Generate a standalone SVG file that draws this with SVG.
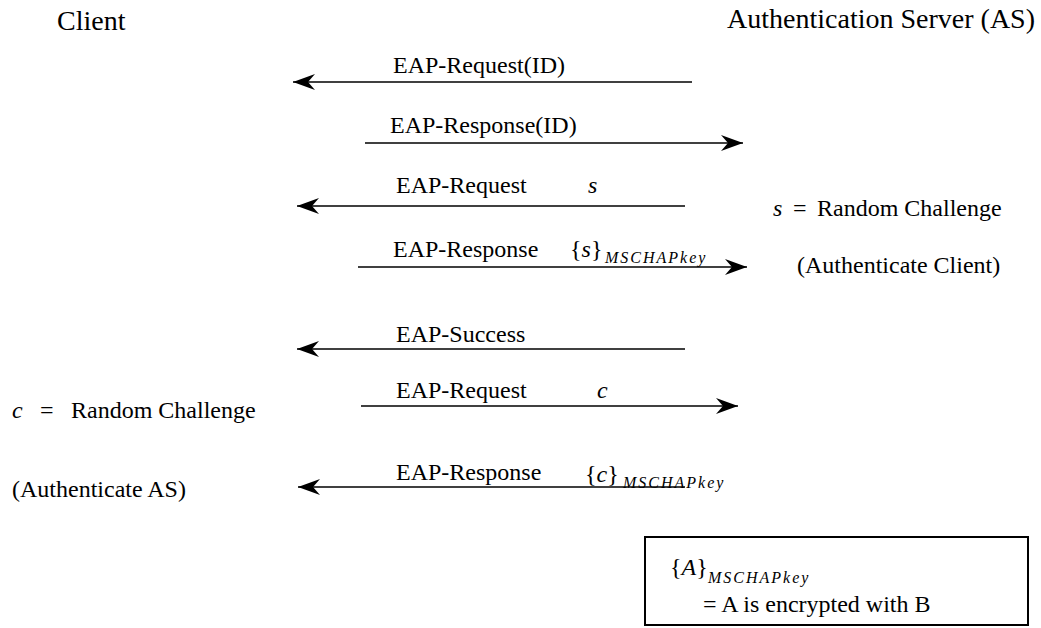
<svg xmlns="http://www.w3.org/2000/svg" width="1041" height="628" viewBox="0 0 1041 628">
<style>
text{font-family:"Liberation Serif","Times New Roman",serif;fill:#000;font-size:24px}
.hd{font-size:28px}
.it{font-style:italic}
.sub{font-style:italic;font-size:16px;letter-spacing:2px}
.msg{stroke:#000;stroke-width:1.3;fill:none;marker-end:url(#ah)}
</style>
<defs>
<marker id="ah" markerUnits="userSpaceOnUse" markerWidth="24" markerHeight="18" viewBox="-23 -9 24 18" refX="0" refY="0" orient="auto" overflow="visible">
<path d="M0,0 L-22,-8 L-15,0 L-22,8 Z" fill="#000"/>
</marker>
</defs>
<rect width="1041" height="628" fill="#fff"/>
<g id="client"><text class="hd" x="57" y="30">Client</text></g>
<g id="as"><text class="hd" x="1035" y="28" text-anchor="end">Authentication Server (AS)</text></g>
<g id="connectors">
<line class="msg" x1="692" y1="82" x2="293" y2="82"/>
<line class="msg" x1="365" y1="143" x2="743" y2="143"/>
<line class="msg" x1="685" y1="206" x2="297" y2="206"/>
<line class="msg" x1="358" y1="267" x2="747" y2="267"/>
<line class="msg" x1="685" y1="349" x2="297" y2="349"/>
<line class="msg" x1="361" y1="406" x2="738" y2="406"/>
<line class="msg" x1="685" y1="487" x2="298" y2="487"/>
</g>
<g id="labels">
<text x="393" y="73">EAP-Request(ID)</text>
<text x="390" y="133">EAP-Response(ID)</text>
<text x="396" y="193">EAP-Request</text>
<text class="it" x="588" y="193">s</text>
<text x="393" y="257">EAP-Response</text>
<text x="570" y="257">{<tspan class="it">s</tspan>}</text>
<text class="sub" x="605" y="263">MSCHAPkey</text>
<text x="396" y="342">EAP-Success</text>
<text x="396" y="398">EAP-Request</text>
<text class="it" x="597" y="398">c</text>
<text x="396" y="480">EAP-Response</text>
<text x="585" y="482">{<tspan class="it">c</tspan>}</text>
<text class="sub" x="623" y="488">MSCHAPkey</text>
</g>
<g id="server-notes">
<text class="it" x="773" y="216">s</text>
<text x="793" y="216">=</text>
<text x="817" y="216">Random Challenge</text>
<text x="797" y="273">(Authenticate Client)</text>
</g>
<g id="client-notes">
<text class="it" x="12" y="418">c</text>
<text x="40" y="418">=</text>
<text x="71" y="418">Random Challenge</text>
<text x="12" y="497">(Authenticate AS)</text>
</g>
<g id="legend">
<rect x="645" y="537" width="383" height="88" fill="none" stroke="#000" stroke-width="2"/>
<text x="670" y="575" font-size="21">{<tspan class="it">A</tspan>}</text>
<text class="sub" x="708" y="583">MSCHAPkey</text>
<text x="703" y="612">= A is encrypted with B</text>
</g>
</svg>
